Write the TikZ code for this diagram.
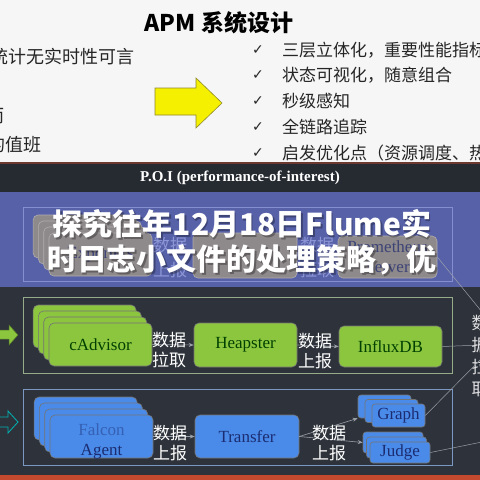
\documentclass[tikz,border=0pt]{standalone}
\usepackage{fontspec}
\setmainfont{Liberation Serif}
\newfontfamily\cjk{Noto Sans CJK SC}
\newfontfamily\symb{DejaVu Sans}
\usetikzlibrary{arrows.meta,positioning}
\definecolor{slide}{HTML}{F6F6F6}
\definecolor{board}{HTML}{2E333B}
\definecolor{header}{HTML}{262A31}
\definecolor{veil}{HTML}{5761A8}
\definecolor{leaf}{HTML}{8CC63F}
\definecolor{sky}{HTML}{4A8BEA}
\definecolor{navy}{HTML}{1B2C70}
\definecolor{ghost}{HTML}{8E898B}
\definecolor{ghostline}{HTML}{8D96D6}
\definecolor{wire}{HTML}{9AA0A8}
\definecolor{brick}{HTML}{C4492F}
\definecolor{lemon}{HTML}{F4F000}
\tikzset{
  greenbox/.style={rounded corners=5pt,fill=leaf,draw=black!55,line width=0.6pt,
                   minimum width=103pt,minimum height=43pt,inner sep=0pt,
                   font=\fontsize{17}{20}\selectfont,text=black!75!green},
  bluebox/.style={greenbox,fill=sky,text=navy},
  ghostbox/.style={greenbox,fill=ghost,draw=ghost!70!white,text=veil!70!black},
  panel/.style={draw=#1,line width=0.6pt},
  lbl/.style={font=\cjk\fontsize{17}{20}\selectfont,text=white,align=center,inner sep=0pt},
  ghostlbl/.style={lbl,text=ghostline,font=\cjk\fontsize{17}{25}\selectfont},
  flow/.style={-{Stealth[length=5pt,width=4pt]},line width=0.6pt,color=wire},
  wireline/.style={line width=0.5pt,color=wire},
  slidetxt/.style={font=\cjk\fontsize{17}{20}\selectfont,text=black!85,inner sep=0pt},
  tick/.style={font=\symb\fontsize{14}{16}\selectfont,text=black!85,inner sep=0pt},
  headline/.style={font=\cjk\bfseries\fontsize{30}{36}\selectfont,text=white,inner sep=0pt},
}
\begin{document}
\begin{tikzpicture}[x=1pt,y=-1pt]
  \useasboundingbox (0,0) rectangle (480,480);
  \clip (0,0) rectangle (480,480);
  % upper slide
  \fill[slide] (0,0) rectangle (480,163);
  \node[font=\cjk\bfseries\fontsize{23}{26}\selectfont,inner sep=0pt] (apm) at (219,23) {APM 系统设计};
  \node[slidetxt,font=\cjk\fontsize{18}{20}\selectfont,anchor=east] (old1) at (135,57) {统计无实时性可言};
  \node[slidetxt,font=\cjk\fontsize{18}{20}\selectfont,anchor=east] (old2) at (5,116) {而};
  \node[slidetxt,font=\cjk\fontsize{18}{20}\selectfont,anchor=east] (old3) at (42,145) {的值班};
  \draw[fill=lemon,draw=olive!70!gray,line width=0.6pt]
    (155,88) -- (196,88) -- (196,78) -- (222,103) -- (196,128) -- (196,115) -- (155,115) -- cycle;
  \node[tick] (c1) at (258,50) {✓};
  \node[tick] (c2) at (258,75) {✓};
  \node[tick] (c3) at (258,101) {✓};
  \node[tick] (c4) at (258,127) {✓};
  \node[tick] (c5) at (258,153) {✓};
  \node[slidetxt,anchor=west] (goal1) at (282,50) {三层立体化，重要性能指标};
  \node[slidetxt,anchor=west] (goal2) at (282,75) {状态可视化，随意组合};
  \node[slidetxt,anchor=west] (goal3) at (282,101) {秒级感知};
  \node[slidetxt,anchor=west] (goal4) at (282,127) {全链路追踪};
  \node[slidetxt,anchor=west] (goal5) at (282,153) {启发优化点（资源调度、热};
  % lower slide
  \fill[board] (0,163) rectangle (480,480);
  \fill[header] (0,163) rectangle (480,192);
  \draw[color=brick!45!header,line width=1.5pt] (0,163) -- (480,163);
  \node[text=white,font=\bfseries\fontsize{15}{18}\selectfont] (poi) at (240,178) {P.O.I (performance-of-interest)};
  \fill[veil] (0,192) rectangle (480,287);
  \fill[brick] (0,475) rectangle (480,480);
  % faded row
  \draw[panel=ghostline!85!veil] (23,207) rectangle (452,281);
  \foreach \k in {3,2,1}
    \node[ghostbox] (exp\k) at (100.5-5.3*\k,254.5-6*\k) {};
  \node[ghostbox] (exp) at (100.5,254.5) {Exporters};
  \node[ghostbox,minimum width=104pt,minimum height=45pt] (mid) at (245,255.5) {};
  \node[ghostbox,minimum width=99pt,minimum height=42pt,align=center] (srv) at (387.5,257) {Prometheus\\Server};
  \node[ghostlbl] (gpush) at (170,257.5) {数据\\上报};
  \node[ghostlbl] (gpull) at (317,257.5) {数据\\拉取};
  \coordinate (pullS) at (482,312);
  \draw[wireline] (srv.east) -- (pullS);
  % green row
  \draw[panel=wire!70!leaf] (23,297) rectangle (452,373);
  \draw[fill=leaf,draw=leaf!60!black,line width=0.5pt]
    (-2,330) -- (9,330) -- (9,325) -- (18,335) -- (9,345) -- (9,339) -- (-2,339) -- cycle;
  \foreach \k in {3,2,1}
    \node[greenbox] (cadv\k) at (100.5-5.3*\k,344.5-6*\k) {};
  \node[greenbox] (cadv) at (100.5,344.5) {cAdvisor};
  \node[greenbox,minimum height=44pt] (heap) at (245.5,345) {Heapster};
  \node[greenbox,minimum height=41pt] (influx) at (390.5,346.5) {InfluxDB};
  \draw[flow] (cadv.east) -- (heap.west);
  \draw[flow] (heap.east) -- (influx.west);
  \node[lbl] (pull1) at (169,350) {数据\\拉取};
  \node[lbl] (push1) at (315,351) {数据\\上报};
  \coordinate (pullG) at (482,345);
  \draw[wireline] (influx.east) -- (pullG);
  \node[lbl,font=\cjk\fontsize{17}{22}\selectfont,text=white!85!board] (pullR) at (480,356) {数\\据\\拉\\取};
  % blue row
  \draw[panel=wire!60!sky] (23,389) rectangle (452,465);
  \draw[draw=teal!60!cyan,line width=0.8pt]
    (-2,417) -- (8,417) -- (8,411) -- (18,422) -- (8,433) -- (8,427) -- (-2,427) -- cycle;
  \foreach \k in {3,2,1}
    \node[bluebox] (agent\k) at (101.5-5.3*\k,436.5-6*\k) {};
  \node[bluebox] (agent) at (101.5,436.5) {};
  \node[align=center,inner sep=0pt,text=navy,font=\fontsize{17}{20}\selectfont] (agenttxt)
    at ([yshift=-5pt]agent.center) {\textcolor{sky!55!navy}{Falcon}\\Agent};
  \node[bluebox,minimum width=104pt] (transfer) at (247,436.5) {Transfer};
  \foreach \k in {2,1}
    \node[bluebox,minimum width=53pt,minimum height=23pt,rounded corners=3pt] (graph\k) at (398.5-7*\k,415.5-4.5*\k) {};
  \node[bluebox,minimum width=53pt,minimum height=23pt,rounded corners=3pt] (graph) at (398.5,415.5) {Graph};
  \foreach \k in {2,1}
    \node[bluebox,minimum width=60pt,minimum height=21pt,rounded corners=3pt] (judge\k) at (400-3.5*\k,452.5-5*\k) {};
  \node[bluebox,minimum width=60pt,minimum height=21pt,rounded corners=3pt] (judge) at (400,452.5) {Judge};
  \draw[flow] (agent.east) -- (transfer.west);
  \draw[flow] (transfer.east) -- (graph2.south west);
  \draw[flow] (transfer.east) -- (judge2.west);
  \node[lbl] (push2) at (170,443) {数据\\上报};
  \node[lbl] (push3) at (329,443) {数据\\上报};
  \coordinate (pullA) at (482,358);
  \coordinate (pullJ) at (482,442);
  \draw[wireline] (graph.east) -- (pullA);
  \draw[wireline] (judge.east) -- (pullJ);
  % overlay title
  \node[headline,text=black,opacity=0.3] (shadow1) at (243.5,225.5) {探究往年12月18日Flume实};
  \node[headline,text=black,opacity=0.3] (shadow2) at (243.5,261.5) {时日志小文件的处理策略，优};
  \node[headline] (title1) at (242,224) {探究往年12月18日Flume实};
  \node[headline] (title2) at (242,260) {时日志小文件的处理策略，优};
\end{tikzpicture}
\end{document}
